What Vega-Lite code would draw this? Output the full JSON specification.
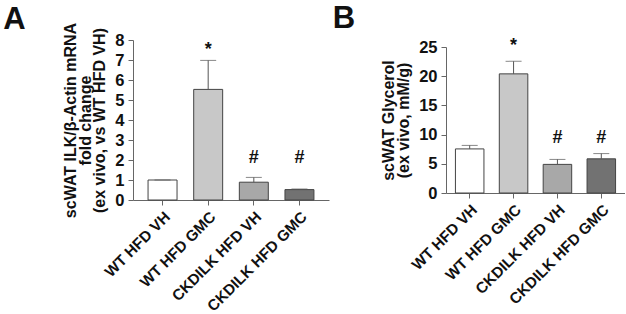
{
  "$schema": "https://vega.github.io/schema/vega-lite/v6.json",
  "padding": {"left": 3, "top": 2, "right": 0, "bottom": 0},
  "background": "white",
  "bounds": "flush",
  "center": true,
  "spacing": 117,
  "config": {
    "font": "Liberation Sans",
    "view": {"stroke": null},
    "axis": {
      "grid": false,
      "domainColor": "#666666",
      "tickColor": "#666666",
      "tickSize": 5,
      "labelFont": "Liberation Sans",
      "labelFontWeight": "bold",
      "labelColor": "#111111",
      "labelOverlap": false,
      "titleFont": "Liberation Sans",
      "titleFontWeight": "bold",
      "titleColor": "#111111",
      "titleFontSize": 16,
      "titleLineHeight": 14.8
    },
    "axisY": {"labelFontSize": 16.5, "labelPadding": 4, "titlePadding": 7},
    "axisX": {"labelFontSize": 15.3, "labelAngle": -45, "labelPadding": 4}
  },
  "datasets": {
    "a": [
      {"group": "WT HFD VH", "value": 1.0, "upper": 1.0, "sig": "", "sig_y": 2.08},
      {"group": "WT HFD GMC", "value": 5.53, "upper": 6.98, "sig": "*", "sig_y": 7.49},
      {"group": "CKDILK HFD VH", "value": 0.89, "upper": 1.13, "sig": "#", "sig_y": 2.08},
      {"group": "CKDILK HFD GMC", "value": 0.52, "upper": 0.55, "sig": "#", "sig_y": 2.08}
    ],
    "b": [
      {"group": "WT HFD VH", "value": 7.55, "upper": 8.15, "sig": "", "sig_y": 9.5},
      {"group": "WT HFD GMC", "value": 20.4, "upper": 22.55, "sig": "*", "sig_y": 25.1},
      {"group": "CKDILK HFD VH", "value": 4.9, "upper": 5.75, "sig": "#", "sig_y": 9.5},
      {"group": "CKDILK HFD GMC", "value": 5.85, "upper": 6.75, "sig": "#", "sig_y": 9.5}
    ]
  },
  "hconcat": [
    {
      "title": {"text": "A", "anchor": "start", "frame": "bounds", "fontSize": 31, "fontWeight": "bold", "dx": -59, "offset": -14, "color": "#111111"},
      "width": 196,
      "height": 160,
      "data": {"name": "a"},
      "encoding": {
        "x": {"field": "group", "type": "nominal", "sort": null, "title": null,
              "scale": {"paddingInner": 0.365, "paddingOuter": 0.33}}
      },
      "layer": [
        {
          "mark": {"type": "bar", "stroke": "#444444", "strokeWidth": 1},
          "encoding": {
            "y": {"field": "value", "type": "quantitative",
                  "scale": {"domain": [0, 8], "nice": false},
                  "axis": {"values": [0, 1, 2, 3, 4, 5, 6, 7, 8]},
                  "title": ["scWAT ILK/β-Actin mRNA", "fold change", "(ex vivo, vs WT HFD VH)"]},
            "color": {"field": "group", "type": "nominal", "sort": null, "legend": null,
                      "scale": {"domain": ["WT HFD VH", "WT HFD GMC", "CKDILK HFD VH", "CKDILK HFD GMC"],
                                "range": ["#ffffff", "#c8c8c8", "#a8a8a8", "#727272"]}}
          }
        },
        {
          "mark": {"type": "rule", "color": "#555555", "strokeWidth": 1},
          "encoding": {"y": {"field": "value", "type": "quantitative", "axis": {"values": [0, 1, 2, 3, 4, 5, 6, 7, 8]}}, "y2": {"field": "upper"}}
        },
        {
          "mark": {"type": "tick", "color": "#555555", "thickness": 1, "size": 16, "orient": "horizontal"},
          "encoding": {"y": {"field": "upper", "type": "quantitative", "axis": {"values": [0, 1, 2, 3, 4, 5, 6, 7, 8]}}}
        },
        {
          "mark": {"type": "text", "fontSize": 18, "fontWeight": "bold", "baseline": "middle", "color": "#111111"},
          "encoding": {"y": {"field": "sig_y", "type": "quantitative", "axis": {"values": [0, 1, 2, 3, 4, 5, 6, 7, 8]}}, "text": {"field": "sig"}}
        }
      ]
    },
    {
      "title": {"text": "B", "anchor": "start", "frame": "bounds", "fontSize": 31, "fontWeight": "bold", "dx": -48, "offset": 2.7, "color": "#111111"},
      "width": 179,
      "height": 146,
      "data": {"name": "b"},
      "encoding": {
        "x": {"field": "group", "type": "nominal", "sort": null, "title": null,
              "scale": {"paddingInner": 0.35, "paddingOuter": 0.215}}
      },
      "layer": [
        {
          "mark": {"type": "bar", "stroke": "#444444", "strokeWidth": 1},
          "encoding": {
            "y": {"field": "value", "type": "quantitative",
                  "scale": {"domain": [0, 25], "nice": false},
                  "axis": {"values": [0, 5, 10, 15, 20, 25]},
                  "title": ["scWAT Glycerol", "(ex vivo, mM/g)"]},
            "color": {"field": "group", "type": "nominal", "sort": null, "legend": null,
                      "scale": {"domain": ["WT HFD VH", "WT HFD GMC", "CKDILK HFD VH", "CKDILK HFD GMC"],
                                "range": ["#ffffff", "#c8c8c8", "#a8a8a8", "#727272"]}}
          }
        },
        {
          "mark": {"type": "rule", "color": "#555555", "strokeWidth": 1},
          "encoding": {"y": {"field": "value", "type": "quantitative", "axis": {"values": [0, 5, 10, 15, 20, 25]}}, "y2": {"field": "upper"}}
        },
        {
          "mark": {"type": "tick", "color": "#555555", "thickness": 1, "size": 16, "orient": "horizontal"},
          "encoding": {"y": {"field": "upper", "type": "quantitative", "axis": {"values": [0, 5, 10, 15, 20, 25]}}}
        },
        {
          "mark": {"type": "text", "fontSize": 18, "fontWeight": "bold", "baseline": "middle", "color": "#111111"},
          "encoding": {"y": {"field": "sig_y", "type": "quantitative", "axis": {"values": [0, 5, 10, 15, 20, 25]}}, "text": {"field": "sig"}}
        }
      ]
    }
  ]
}
